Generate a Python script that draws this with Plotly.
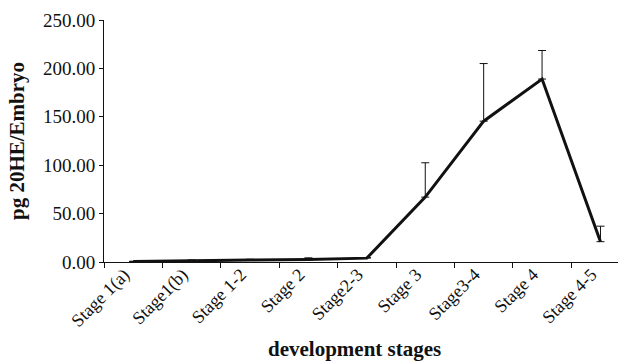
import plotly.graph_objects as go

stages = ["Stage 1(a)", "Stage1(b)", "Stage 1-2", "Stage 2", "Stage2-3",
          "Stage 3", "Stage3-4", "Stage 4", "Stage 4-5"]
values = [0.5, 1.5, 2.0, 2.5, 4.0, 67.0, 145.5, 189.0, 21.0]
err_plus = [0.3, 0.6, 0.8, 1.8, 0.6, 35.5, 59.5, 29.5, 16.0]

fig = go.Figure()
fig.add_trace(go.Scatter(
    x=stages, y=values, mode="lines",
    line=dict(color="#111111", width=3),
    error_y=dict(type="data", array=err_plus, symmetric=False, arrayminus=[0]*len(values),
                 color="#111111", thickness=1, width=4),
    showlegend=False,
))

font = "Liberation Serif, Times New Roman, serif"
fig.update_layout(
    width=618, height=361,
    margin=dict(l=104, r=0, t=20, b=99, autoexpand=False),
    paper_bgcolor="white", plot_bgcolor="white",
    font=dict(family=font, color="#111111"),
    xaxis=dict(
        type="category", range=[-0.5, 8.3], tickson="boundaries", automargin=False,
        showline=True, linecolor="#111111", linewidth=1,
        ticks="outside", ticklen=5, tickcolor="#111111",
        tickangle=-45, tickfont=dict(size=18, family=font),
        ticklabelshift=-9, ticklabelstandoff=-6,
        showgrid=False, zeroline=False,
    ),
    yaxis=dict(
        range=[0, 250], tickvals=[0, 50, 100, 150, 200, 250], tickformat=".2f",
        automargin=False,
        showline=True, linecolor="#111111", linewidth=1,
        ticks="outside", ticklen=4, tickcolor="#111111",
        tickfont=dict(size=19, family=font),
        showgrid=False, zeroline=False,
        title=dict(text="<b>pg 20HE/Embryo</b>", font=dict(size=21, family=font), standoff=12),
    ),
    annotations=[dict(
        text="<b>development stages</b>", xref="paper", yref="paper",
        x=0.488, y=-0.36, xanchor="center", yanchor="middle", showarrow=False,
        font=dict(size=21, family=font, color="#111111"),
    )],
)

fig.write_html(
    "out.html",
    config={"displayModeBar": False},
    post_script="document.body.style.margin='0';document.body.style.overflow='hidden';",
)
